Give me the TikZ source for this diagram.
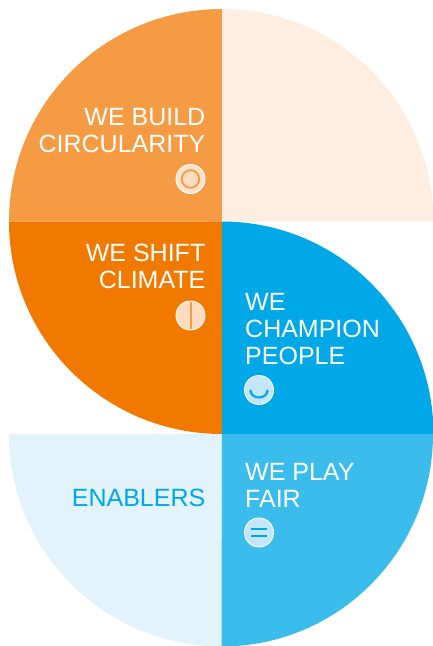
\documentclass[tikz,border=0pt]{standalone}
\usepackage{fontspec}
\setmainfont{Liberation Sans}
\definecolor{cBuild}{HTML}{F59B43}
\definecolor{cCream}{HTML}{FEEEE1}
\definecolor{cClimate}{HTML}{F27900}
\definecolor{cPeople}{HTML}{00A8E8}
\definecolor{cFair}{HTML}{3ABDEC}
\definecolor{cEnablers}{HTML}{E2F3FC}
\definecolor{cIconO}{HTML}{FDDCBF}
\definecolor{cIconB}{HTML}{C4E6FA}
\tikzset{
  lab/.style={text=white,font=\fontsize{25}{27}\selectfont,inner sep=0pt},
  labr/.style={lab,align=right,anchor=east},
  labl/.style={lab,align=left,anchor=west},
  iconO/.style={circle,draw=white,line width=0.9pt,fill=cIconO,minimum size=29pt,inner sep=0pt},
  iconB/.style={circle,draw=white,line width=0.9pt,fill=cIconB,minimum size=29pt,inner sep=0pt},
}
\begin{document}
\begin{tikzpicture}[x=1pt,y=-1pt]
\useasboundingbox (0,0) rectangle (433,646);
\fill[cBuild] (222,221.5) -- (9,221.5) arc[start angle=180,end angle=90,x radius=213pt,y radius=212.5pt] -- cycle;
\fill[cCream] (222,221.5) -- (222,9) arc[start angle=90,end angle=0,x radius=211.5pt,y radius=212.5pt] -- cycle;
\fill[cClimate] (222,221.5) -- (9,221.5) arc[start angle=180,end angle=270,x radius=213pt,y radius=212.5pt] -- cycle;
\fill[cPeople] (222,434) -- (222,221.5) arc[start angle=90,end angle=0,x radius=211.5pt,y radius=212.5pt] -- cycle;
\fill[cEnablers] (222,434) -- (9,434) arc[start angle=180,end angle=270,x radius=213pt,y radius=212.5pt] -- cycle;
\fill[cFair] (222,434) -- (433,434) arc[start angle=0,end angle=-90,x radius=211.5pt,y radius=212.5pt] -- cycle;
\node[labr] (build) at (205.5,131) {WE BUILD\\CIRCULARITY};
\node[labr] (climate) at (205.5,266) {WE SHIFT\\CLIMATE};
\node[labl] (people) at (245,329) {WE\\CHAMPION\\PEOPLE};
\node[labl] (fair) at (245,485) {WE PLAY\\FAIR};
\node[labr,text=cPeople] (enablers) at (205.5,498) {ENABLERS};
\node[iconO,fill=cIconO!85!white] (i1) at (190.5,179) {};
\draw[cBuild,line width=1.8pt,fill=cIconO] (190.5,179) circle[radius=8.8pt];
\node[iconO] (i2) at (190.5,315.5) {};
\draw[cBuild,line width=2pt] (190.5,302) -- (190.5,329);
\node[iconB] (i3) at (259,390) {};
\draw[cPeople,line width=2.2pt,line cap=round] (250.5,390.5) arc[start angle=180,end angle=360,x radius=8.5pt,y radius=7pt];
\node[iconB] (i4) at (259,532.5) {};
\draw[cPeople,line width=2.2pt] (251,529) -- (267,529) (251,536) -- (267,536);
\end{tikzpicture}
\end{document}
